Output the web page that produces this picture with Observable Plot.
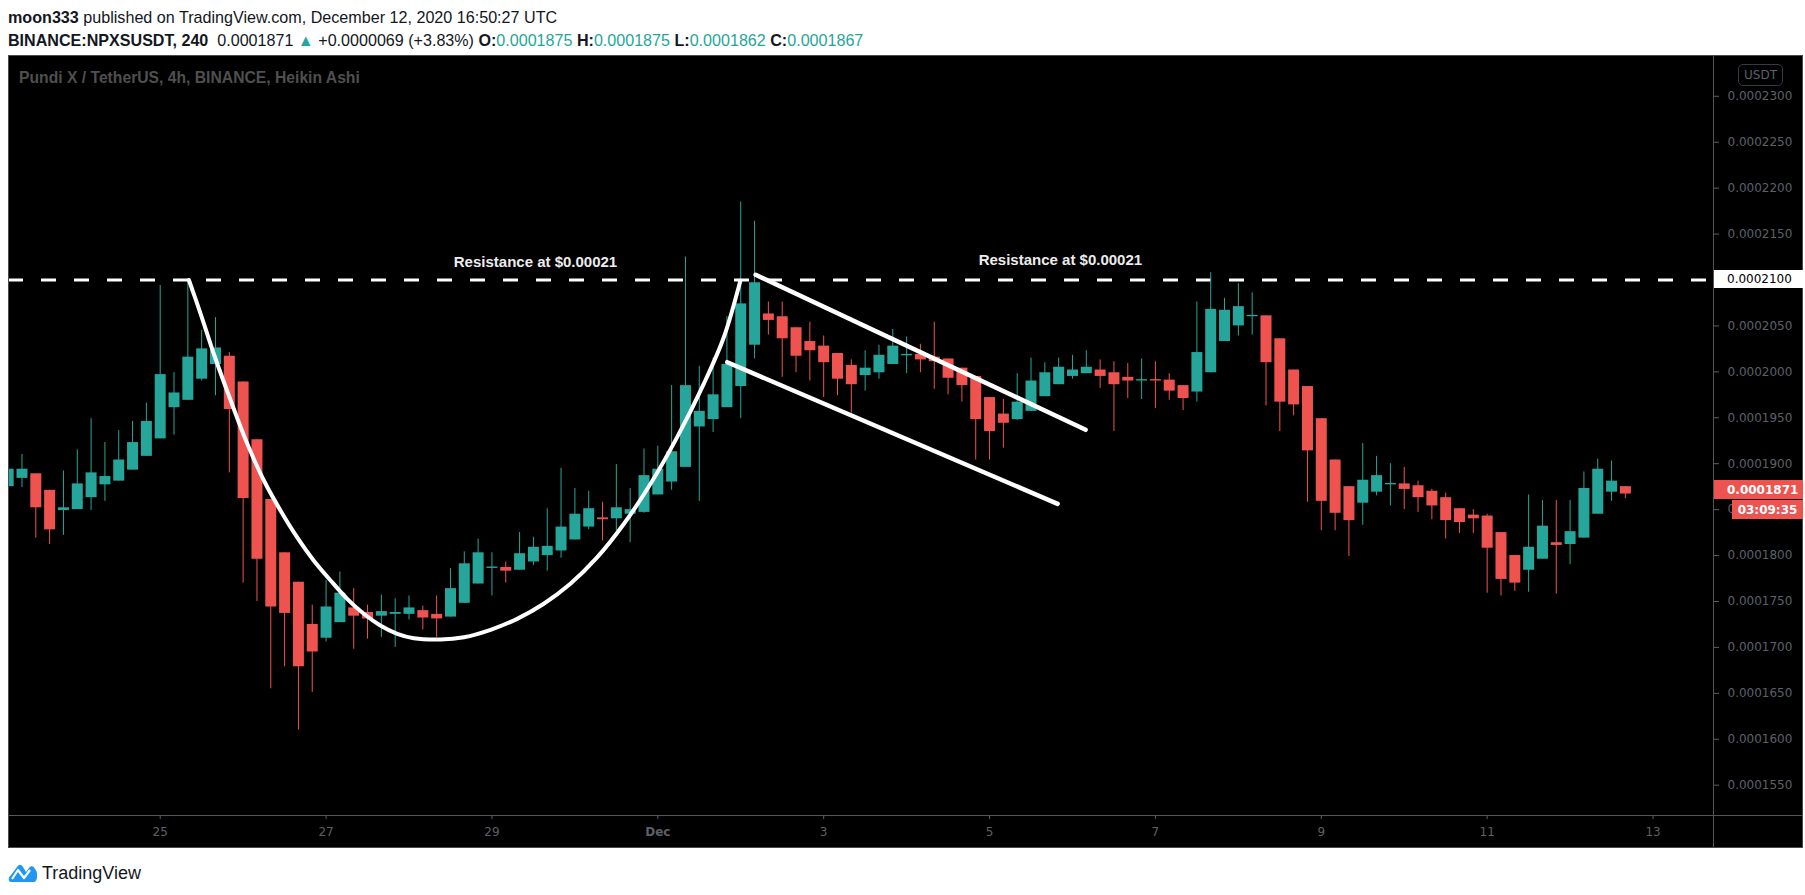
<!DOCTYPE html>
<html><head><meta charset="utf-8">
<script src="https://cdn.jsdelivr.net/npm/d3@7"></script>
<script src="https://cdn.jsdelivr.net/npm/@observablehq/plot@0.6"></script>
<style>
html,body{margin:0;padding:0;background:#fff;}
body{width:1805px;height:895px;position:relative;overflow:hidden;font-family:"Liberation Sans",Arial,sans-serif;color:#131722;}
.hdr{position:absolute;left:8px;white-space:nowrap;line-height:1;}
.b{font-weight:bold;}
.g{color:#26a69a;}
#chart{position:absolute;left:8px;top:55px;width:1795px;height:793px;background:#000;}
#chart svg{display:block;}
.ov{position:absolute;white-space:nowrap;line-height:1;}
#frame{position:absolute;left:0;top:0;width:1795px;height:793px;box-sizing:border-box;border:1px solid #4a4a4a;pointer-events:none;}
#vline{position:absolute;left:1705px;top:0;width:1px;height:793px;background:#555;}
#hline{position:absolute;left:0;top:760px;width:1795px;height:1px;background:#555;}
</style></head><body>
<div class="hdr" id="l1" style="top:9px;font-size:15px;"><span class="b">moon333</span> published on TradingView.com, December 12, 2020 16:50:27 UTC</div>
<div class="hdr" id="l2" style="top:32px;font-size:15px;"><span class="b">BINANCE:NPXSUSDT, 240</span>&nbsp; <span id="last"></span> <span class="g">▲</span> <span id="chg"></span> <span class="b">O:</span><span class="g" id="vo"></span> <span class="b">H:</span><span class="g" id="vh"></span> <span class="b">L:</span><span class="g" id="vl"></span> <span class="b">C:</span><span class="g" id="vc"></span></div>
<div id="chart"></div>
<div class="hdr" id="foot" style="top:862px;left:8px;font-size:18px;display:flex;align-items:center;gap:4px;">
<svg width="30" height="22" viewBox="0 0 30 22"><path d="M3 20 C0 20 0 15 3 13 L9 5 C11 2 13 2 15 5 L18 10 L21 6 C23 3 26 4 27 7 C30 9 30 20 26 20 Z" fill="#2196f3"/><path d="M4 17 L10 8 L16 16 L22 8" stroke="#fff" stroke-width="2.2" fill="none" stroke-linejoin="round"/></svg>
<span id="tvtext">TradingView</span></div>
<script>
// ---- data (prices in units of 1e-7 USDT) ----
const SCALE = 1e-7;
const barStart = "2020-11-23T04:00:00Z";
const barEnd = "2020-12-12T20:00:00Z"; // exclusive
const open = [1875,1884,1889,1871,1849,1850,1863,1877,1881,1893,1908,1927,1961,1969,1992,2008,2017,1989,1926,1861,1803,1771,1725,1710,1727,1743,1738,1734,1736,1736,
1740,1736,1733,1748,1769,1786,1787,1784,1793,1800,1805,1817,1831,1841,1840,1845,1847,1866,1880,1896,1940,1948,1961,1984,2029,2063,2060,2048,2033,2028,
2020,2007,1996,1999,2008,2017.5,2019,2016,2014,2004,1995,1972,1954,1948,1957,1973,1986,1995,1998,2002,1999,1994,1990,1991.5,1991,1985,1978,1999,2033,2050,
2060,2061,2036,2002,1984,1949,1904,1875,1857,1869,1877,1878,1876,1870,1863,1851,1844,1843,1825,1800,1784,1796,1814,1812,1819,1845,1869,1875];
const high = [1896,1910,1889,1871,1892,1915,1949,1923,1936,1946,1966,2094,1999,2100,2045,2059,2021,1989,1926,1861,1803,1771,1746,1773,1782,1764,1746,1757,1753,1756,
1745,1756,1786,1804,1818,1803,1793,1825,1820,1851,1895,1873,1870,1858,1899,1873,1916,1919,1985,2125,2006,2015,2060,2185,2164,2076,2076,2048,2054,2039,
2020,2013,2023,2029,2046,2038,2030,2054,2014,2004,1995,1972,1970,1998,2015,2010,2015,2018,2023,2013,2011,2009,2014,2011,1998,1985,2076,2108,2080,2096,
2086,2061,2036,2002,1984,1949,1904,1875,1922,1908,1900,1896,1881,1872,1868,1851,1850,1845,1825,1800,1866,1860,1860,1860,1891,1905,1903,1875];
const low = [1874,1874,1819,1812,1822,1850,1849,1859,1881,1893,1908,1927,1931,1969,1990,1974,1890,1770,1750,1655,1679,1610,1651,1706,1727,1698,1709,1711,1700,1730,
1719,1711,1733,1748,1769,1756,1770,1784,1789,1783,1797,1817,1828,1816,1827,1814,1846,1866,1871,1896,1859,1934,1961,1949,2014,2040,1994,1999,1990,1972,
1974,1955,1979,1992,2008,1998,1999,1981,1975,1967,1904,1904,1917,1947,1957,1973,1986,1992,1998,1982,1935,1971,1970,1960,1969,1958,1967,1999,2033,2039,
2040,1963,1935,1952,1858,1827,1827,1799,1833,1865,1854,1850,1847,1839,1818,1824,1824,1759,1756,1761,1760,1796,1758,1790,1819,1845,1859,1862];
const close = [1894,1894,1852,1828,1852,1878,1890,1886,1904,1923,1946,1997,1977,2016,2025,2026,1959,1862,1796,1744,1737,1679,1695,1744,1759,1734,1731,1739,1738,1743,
1732,1731,1764,1791,1803,1787.5,1783,1802,1809,1810,1831,1845,1851,1839,1852,1850,1887,1894,1913,1985,1957,1975,2008,2074,2097,2056,2036,2017,2023,2010,
1992,1986,2004,2018,2028,2019,2013,2011,1993,1985,1948,1935,1944,1967,1990,1999,2005,2002,2005,1995,1986,1990,1991.5,1990,1979,1971,2021,2068,2067,2071,
2061.5,2010,1967,1964,1914,1859,1846,1838,1882,1887,1878.5,1872,1863,1854,1838,1836,1840,1808,1774,1770,1809,1832,1811,1826,1873,1894,1881,1867];

// axes
const yTicks = [2300,2250,2200,2150,2100,2050,2000,1950,1900,1850,1800,1750,1700,1650,1600,1550];
const xTickDates = ["2020-11-25","2020-11-27","2020-11-29","2020-12-01","2020-12-03","2020-12-05","2020-12-07","2020-12-09","2020-12-11","2020-12-13"];
const xTickLabels = ["25","27","29","Dec","3","5","7","9","11","13"];
const xDomain = ["2020-11-23T04:06:00Z","2020-12-13T17:30:00Z"];
const yDomain = [1517, 2344.4];

// annotations
const resistance = 2100;
const noteTimes = ["2020-11-29T12:36:00Z","2020-12-05T20:30:00Z"];
const notePrices = [2119.4, 2121.2];
const noteLabels = ["Resistance at $0.00021","Resistance at $0.00021"];
const anchorTime = "2020-12-01T00:00:00Z";
const cupHours = [-135.7,-132.3,-128.5,-123.6,-118.8,-114.0,-109.2,-104.4,-99.6,-94.7,-89.9,-85.1,-80.3,-75.4,-70.6,-62.9,-56.1,-48.4,-40.7,-33.0,-25.3,-17.5,-9.8,-2.1,5.6,13.3,19.1,23.9];
const cupPrices = [2100,2063.2,2019.7,1968.8,1921.7,1881.7,1849.1,1820.0,1794.7,1772.9,1752.9,1736.6,1723.9,1714.8,1710.0,1708.6,1711.1,1719.2,1731.1,1747.5,1769.2,1798.2,1834.6,1878.1,1928.9,1987.0,2037.7,2099.5];
const flagUpperHours = [28.3, 123.8];
const flagUpperPrices = [2105.7, 1936.9];
const flagLowerHours = [20.1, 115.7];
const flagLowerPrices = [2010.5, 1856.3];

// header values
const lastPrice = "0.0001871", change = "+0.0000069 (+3.83%)";
const hdrO = "0.0001875", hdrH = "0.0001875", hdrL = "0.0001862", hdrC = "0.0001867";
const countdown = "03:09:35";

const TEAL = "#26a69a", RED = "#ef5350";

// ---- build ----
const times = d3.utcHour.every(4).range(new Date(barStart), new Date(barEnd));
const candles = times.map((t, i) => ({t, o: open[i]*SCALE, h: high[i]*SCALE, l: low[i]*SCALE, c: close[i]*SCALE, up: close[i] >= open[i]}));
const upC = candles.filter(d => d.up), dnC = candles.filter(d => !d.up);
const anchor = new Date(anchorTime);
const hr = h => new Date(+anchor + h*3600e3);
const cup = cupHours.map((h, i) => ({t: hr(h), p: cupPrices[i]*SCALE}));
const flagU = flagUpperHours.map((h, i) => ({t: hr(h), p: flagUpperPrices[i]*SCALE}));
const flagL = flagLowerHours.map((h, i) => ({t: hr(h), p: flagLowerPrices[i]*SCALE}));
const notes = noteTimes.map((t, i) => ({t: new Date(t), p: notePrices[i]*SCALE, label: noteLabels[i]}));
const xLab = new Map(xTickDates.map((d, i) => [+new Date(d + "T00:00:00Z"), xTickLabels[i]]));

const plot = Plot.plot({
  width: 1795, height: 793,
  marginLeft: 0, marginRight: 90, marginTop: 0, marginBottom: 33,
  style: {background: "#000", fontFamily: "DejaVu Sans", fontSize: "12px"},
  x: {type: "utc", domain: xDomain.map(d => new Date(d))},
  y: {domain: yDomain.map(v => v*SCALE)},
  marks: [
    Plot.ruleY([resistance*SCALE], {stroke: "#fff", strokeWidth: 3, strokeDasharray: "15,18"}),
    Plot.ruleX(upC, {x: "t", y1: "l", y2: "h", stroke: TEAL, strokeWidth: 1, clip: true}),
    Plot.ruleX(dnC, {x: "t", y1: "l", y2: "h", stroke: RED, strokeWidth: 1, clip: true}),
    Plot.ruleX(upC, {x: "t", y1: "o", y2: "c", stroke: TEAL, strokeWidth: 11, clip: true}),
    Plot.ruleX(dnC, {x: "t", y1: "o", y2: "c", stroke: RED, strokeWidth: 11, clip: true}),
    Plot.line(cup, {x: "t", y: "p", stroke: "#fff", strokeWidth: 4, curve: "catmull-rom"}),
    Plot.line(flagU, {x: "t", y: "p", stroke: "#fff", strokeWidth: 4.5}),
    Plot.line(flagL, {x: "t", y: "p", stroke: "#fff", strokeWidth: 4.5}),
    Plot.text(notes, {x: "t", y: "p", text: "label", fill: "#ececec", fontWeight: "bold", fontSize: 15, fontFamily: "Liberation Sans"}),
    Plot.axisY({anchor: "right", ticks: yTicks.map(v => v*SCALE), tickFormat: v => v.toFixed(7), tickSize: 5, tickPadding: 9, color: "#5d6068", label: null}),
    Plot.axisX({ticks: xTickDates.map(d => new Date(d + "T00:00:00Z")), tickFormat: d => xLab.get(+d), tickSize: 4, tickPadding: 8, color: "#5d6068", label: null})
  ]
});
const chart = document.getElementById("chart");
chart.appendChild(plot);
plot.querySelectorAll("text").forEach(t => { if (t.textContent === "Dec") t.setAttribute("font-weight", "bold"); });

const ys = plot.scale("y");
const yPx = v => ys.apply(v*SCALE);
function addDiv(html, css, id) { const d = document.createElement("div"); d.className = "ov"; if (id) d.id = id; d.innerHTML = html; Object.assign(d.style, css); chart.appendChild(d); return d; }
chart.insertAdjacentHTML("beforeend", '<div id="vline"></div><div id="hline"></div><div id="frame"></div>');
// chart title
addDiv("Pundi X / TetherUS, 4h, BINANCE, Heikin Ashi", {left: "11px", top: "15px", color: "#4f4f4f", fontWeight: "bold", fontSize: "15px", fontFamily: "Liberation Sans"}, "ttl");
// USDT badge
addDiv("USDT", {left: "1730px", top: "9px", width: "45px", height: "22px", boxSizing: "border-box", border: "1px solid #363a45", borderRadius: "5px", color: "#5d6068", fontSize: "12px", fontFamily: "DejaVu Sans", display: "flex", alignItems: "center", justifyContent: "center"});
// resistance label box
const yr = yPx(resistance);
addDiv((resistance*SCALE).toFixed(7), {left: "1706px", top: (yr - 9) + "px", width: "89px", height: "18px", background: "#fff", color: "#000", fontSize: "12px", fontFamily: "DejaVu Sans", paddingLeft: "13px", boxSizing: "border-box", display: "flex", alignItems: "center"});
// last price box
const yl = yPx(+lastPrice / SCALE);
addDiv(lastPrice, {left: "1706px", top: (yl - 9.5) + "px", width: "89px", height: "19px", background: RED, color: "#fff", fontWeight: "bold", fontSize: "12px", fontFamily: "DejaVu Sans", paddingLeft: "13px", boxSizing: "border-box", display: "flex", alignItems: "center"});
addDiv(countdown, {left: "1724px", top: (yl + 10.5) + "px", width: "71px", height: "19px", background: RED, color: "#fff", fontWeight: "bold", fontSize: "12px", fontFamily: "DejaVu Sans", display: "flex", alignItems: "center", justifyContent: "center"});

// header texts
document.getElementById("last").textContent = lastPrice;
document.getElementById("chg").textContent = change;
document.getElementById("vo").textContent = hdrO;
document.getElementById("vh").textContent = hdrH;
document.getElementById("vl").textContent = hdrL;
document.getElementById("vc").textContent = hdrC;
function fit(id, target) { const el = document.getElementById(id); const fs = parseFloat(el.style.fontSize); const w = el.getBoundingClientRect().width; el.style.fontSize = (fs*target/w) + "px"; }
fit("l1", 550); fit("l2", 856); fit("tvtext", 91); fit("ttl", 341);
</script>
</body></html>
